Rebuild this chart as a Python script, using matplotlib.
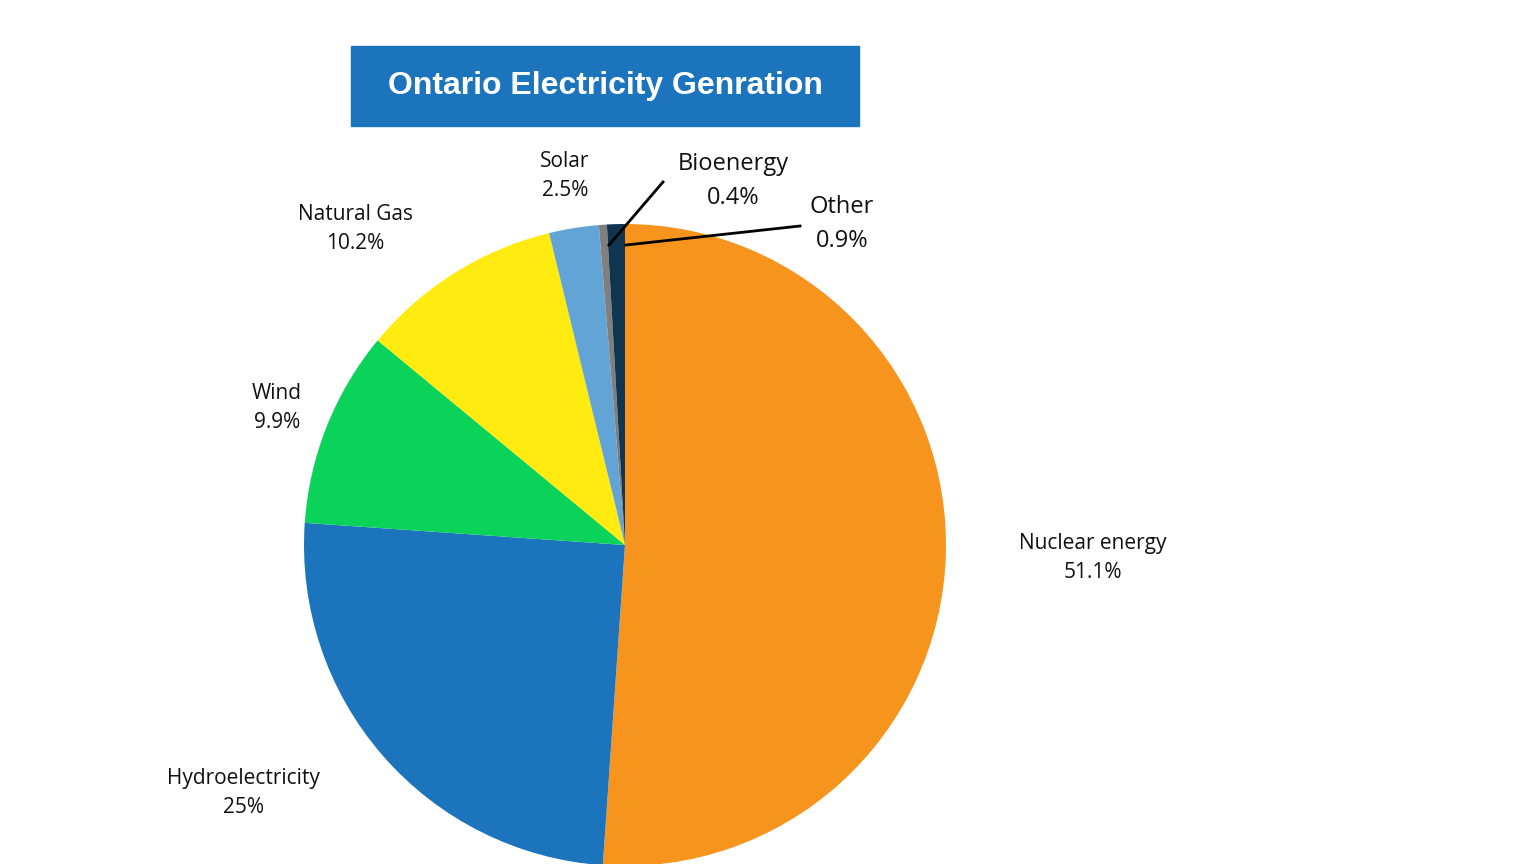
import matplotlib.pyplot as plt
from matplotlib.lines import Line2D
from matplotlib.patches import Rectangle

labels = ["Nuclear energy", "Hydroelectricity", "Wind", "Natural Gas", "Solar", "Bioenergy", "Other"]
values = [51.1, 25, 9.9, 10.2, 2.5, 0.4, 0.9]
pct_text = ["51.1%", "25%", "9.9%", "10.2%", "2.5%", "0.4%", "0.9%"]
colors = ["#F7941D", "#1C75BC", "#0BD35A", "#FFEB0F", "#63A4D6", "#7F7F7F", "#0F3550"]

W, H = 1536, 864
fig = plt.figure(figsize=(W / 100, H / 100), dpi=100)
plt.rcParams['font.family'] = ['Open Sans', 'DejaVu Sans']

def fx(x):
    return x / W

def fy(y):
    return 1 - y / H

cx, cy, r = 625, 545, 321
ax = fig.add_axes([fx(cx - r), fy(cy + r), 2 * r / W, 2 * r / H])
ax.pie(values, colors=colors, startangle=90, counterclock=False,
       wedgeprops=dict(linewidth=0))
ax.set_xlim(-1, 1)
ax.set_ylim(-1, 1)
ax.set_aspect("auto")
ax.axis("off")

# title box
fig.add_artist(Rectangle((fx(351), fy(126)), fx(508), 80 / H, transform=fig.transFigure,
                         color="#1C75BC", zorder=0))
fig.text(fx(605), fy(86), "Ontario Electricity Genration", color="white", fontsize=23,
         fontweight="bold", family=["Liberation Sans", "DejaVu Sans"], ha="center", va="center")

label_pos = [(1093, 558), (243, 793), (277, 408), (355, 229), (565, 176), (733, 181), (842, 224)]
sizes = [15, 15, 15, 15, 15, 17, 17]
for name, pct, (x, y), s in zip(labels, pct_text, label_pos, sizes):
    fig.text(fx(x), fy(y), f"{name}\n{pct}", ha="center", va="center", fontsize=s,
             linespacing=1.55, color="#111111")

fig.add_artist(Line2D([fx(663), fx(609)], [fy(182), fy(245)], transform=fig.transFigure,
                      color="black", lw=2))
fig.add_artist(Line2D([fx(800), fx(626)], [fy(226), fy(245)], transform=fig.transFigure,
                      color="black", lw=2))

fig.savefig("out.png", dpi=100, facecolor="white")
